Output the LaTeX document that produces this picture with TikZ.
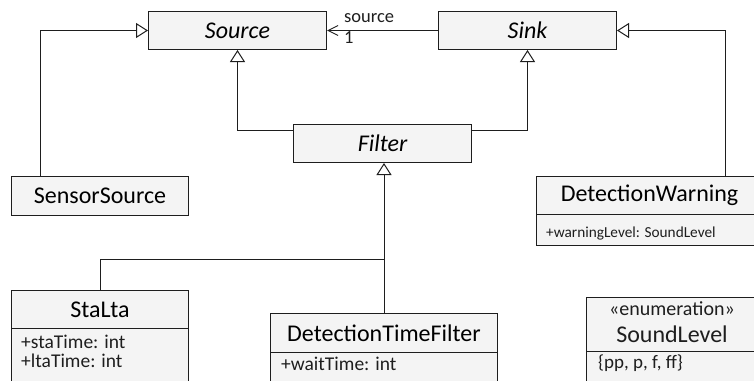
\documentclass[tikz,border=0pt]{standalone}
\usepackage{fontspec}
\setmainfont{Carlito}
\usetikzlibrary{arrows.meta}
\definecolor{boxfill}{HTML}{F4F4F4}
\definecolor{ln}{HTML}{1E1E1E}
\begin{document}
\begin{tikzpicture}[x=1pt,y=-1pt,
  box/.style={draw=ln, fill=boxfill, line width=1pt, rectangle, inner sep=0pt, anchor=north west},
  cls/.style={box, font=\fontsize{24}{28}\selectfont},
  attr/.style={anchor=base west, inner sep=0pt, font=\fontsize{19.5}{20}\selectfont, text=ln},
  lbl/.style={anchor=base west, inner sep=0pt, font=\fontsize{18.5}{19}\selectfont, text=ln},
  gen/.style={draw=ln, line width=1pt, -{Triangle[open,length=12pt,width=15pt]}},
  assoc/.style={draw=ln, line width=1pt, -{Straight Barb[length=10pt,width=10pt]}},
  plain/.style={draw=ln, line width=1pt}
]
\useasboundingbox (0,0) rectangle (754,380);
\clip (0,0) rectangle (754,380);

% classes
\node[cls, minimum width=178pt, minimum height=38pt] (source) at (148,11) {\itshape Source};
\node[cls, minimum width=178pt, minimum height=38pt] (sink) at (438,11) {\itshape Sink};
\node[cls, minimum width=178pt, minimum height=38pt] (filter) at (293,124) {\itshape Filter};
\node[cls, minimum width=177pt, minimum height=39pt] (sensor) at (11,176) {SensorSource};

\node[cls, minimum width=226pt, minimum height=38pt] (dw) at (536,176) {DetectionWarning};
\node[box, minimum width=226pt, minimum height=31pt] (dwattr) at (536,214) {};
\node[attr, font=\fontsize{15.3}{16}\selectfont] (dwa1) at (546,237) {+warningLevel: SoundLevel};

\node[cls, minimum width=177pt, minimum height=38pt] (stalta) at (11,290) {StaLta};
\node[box, minimum width=177pt, minimum height=80pt] (staltaattr) at (11,328) {};
\node[attr] (sa1) at (21,348) {+staTime: int};
\node[attr] (sa2) at (21,367) {+ltaTime: int};

\node[cls, minimum width=227pt, minimum height=39pt] (dtf) at (270,313) {DetectionTimeFilter};
\node[box, minimum width=227pt, minimum height=60pt] (dtfattr) at (270,352) {};
\node[attr] (da1) at (281,370) {+waitTime: int};

\node[box, minimum width=172pt, minimum height=54pt] (sl) at (586,297) {};
\node[anchor=base, inner sep=0pt, font=\fontsize{20}{20}\selectfont, text=ln] (slst) at (672,315) {«enumeration»};
\node[anchor=base, inner sep=0pt, font=\fontsize{24}{28}\selectfont, text=ln] (slname) at (672,342) {SoundLevel};
\node[box, minimum width=172pt, minimum height=60pt] (slattr) at (586,351) {};
\node[attr, font=\fontsize{19}{19}\selectfont] (sla1) at (598,368) {\{pp, p, f, ff\}};

% generalisations
\draw[gen] ([xshift=29pt]sensor.north west) |- (source.west);
\draw[gen] ([xshift=189pt]dw.north west) |- (sink.east);
\draw[gen] ([yshift=-6pt]filter.north west) -| (source.south);
\draw[gen] ([yshift=-6pt]filter.north east) -| (sink.south);
\draw[gen] (dtf.north) -- (dtf.north |- filter.south);
\coordinate (junc) at (dtf.north |- 0,259);
\draw[plain] (stalta.north) |- (junc);

% association
\draw[assoc] (sink.west) -- (source.east);
\node[lbl] (rolename) at (344,22) {source};
\node[lbl] (mult) at (344,43) {1};
\end{tikzpicture}
\end{document}
